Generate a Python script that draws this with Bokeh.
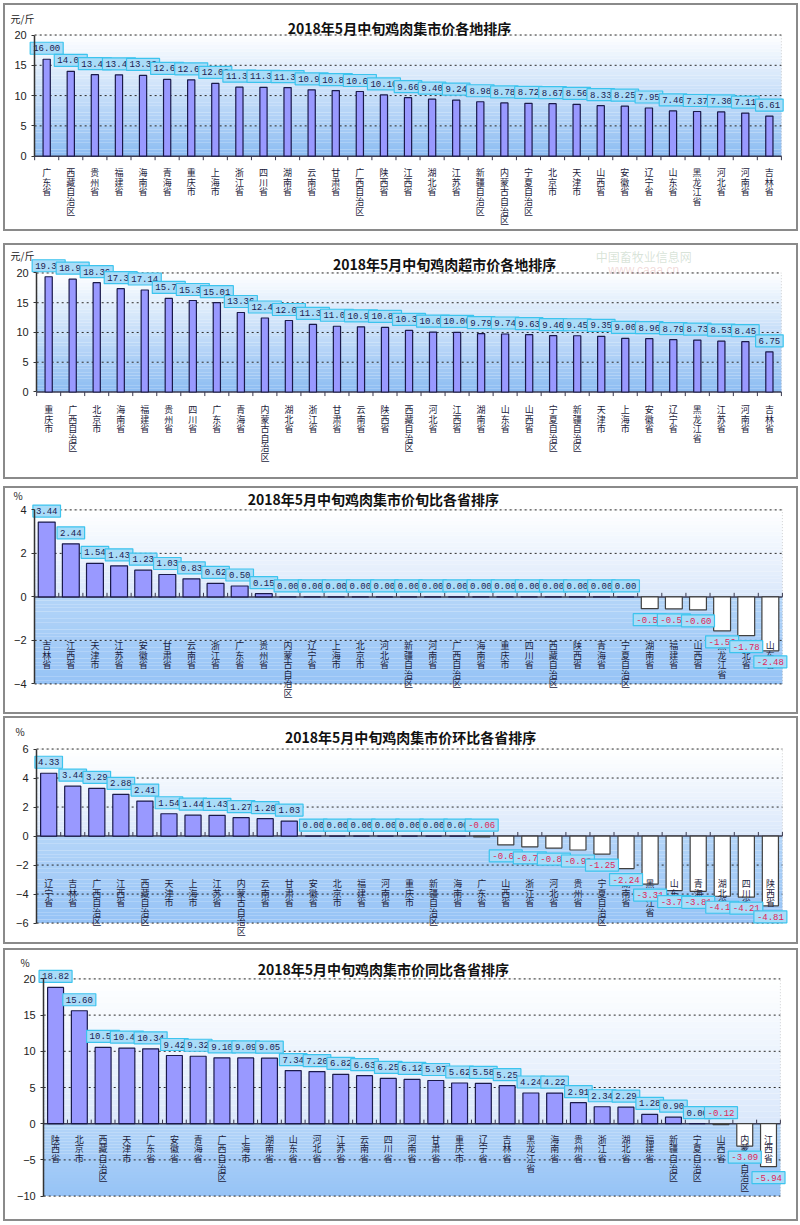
from bokeh.plotting import figure
from bokeh.models import Range1d, BoxAnnotation, Label, ColumnDataSource, FixedTicker
from bokeh.layouts import column
from bokeh.embed import file_html
from bokeh.resources import INLINE
from bokeh.core.properties import value

# ---------------- data ----------------
p1_title = "2018年5月中旬鸡肉集市价各地排序"
p1_unit = "元/斤"
p1_cats = ["广东省", "西藏自治区", "贵州省", "福建省", "海南省", "青海省", "重庆市", "上海市", "浙江省", "四川省",
           "湖南省", "云南省", "甘肃省", "广西自治区", "陕西省", "江西省", "湖北省", "江苏省", "新疆自治区", "内蒙古自治区",
           "宁夏自治区", "北京市", "天津市", "山西省", "安徽省", "辽宁省", "山东省", "黑龙江省", "河北省", "河南省", "吉林省"]
p1_vals = [16.00, 14.00, 13.45, 13.42, 13.33, 12.67, 12.60, 12.00, 11.38, 11.36,
           11.33, 10.95, 10.83, 10.67, 10.10, 9.66, 9.40, 9.24, 8.98, 8.78,
           8.72, 8.67, 8.56, 8.33, 8.25, 7.95, 7.46, 7.37, 7.30, 7.11, 6.61]

p2_title = "2018年5月中旬鸡肉超市价各地排序"
p2_unit = "元/斤"
p2_cats = ["重庆市", "广西自治区", "北京市", "海南省", "福建省", "贵州省", "四川省", "广东省", "青海省", "内蒙古自治区",
           "湖北省", "浙江省", "甘肃省", "云南省", "陕西省", "西藏自治区", "河北省", "江西省", "湖南省", "山东省",
           "山西省", "宁夏自治区", "新疆自治区", "天津市", "上海市", "安徽省", "辽宁省", "黑龙江省", "江苏省", "河南省", "吉林省"]
p2_vals = [19.36, 18.95, 18.36, 17.36, 17.14, 15.73, 15.37, 15.01, 13.36, 12.43,
           12.01, 11.35, 11.05, 10.95, 10.85, 10.35, 10.05, 10.00, 9.79, 9.74,
           9.63, 9.46, 9.45, 9.35, 9.00, 8.96, 8.79, 8.73, 8.53, 8.45, 6.75]

p3_title = "2018年5月中旬鸡肉集市价旬比各省排序"
p3_unit = "%"
p3_cats = ["吉林省", "江西省", "天津市", "江苏省", "安徽省", "甘肃省", "云南省", "浙江省", "广东省", "贵州省",
           "内蒙古自治区", "辽宁省", "上海市", "北京市", "河北省", "新疆自治区", "河南省", "广西自治区", "海南省", "重庆市",
           "四川省", "西藏自治区", "陕西省", "青海省", "宁夏自治区", "湖南省", "福建省", "山西省", "黑龙江省", "湖北省", "山东省"]
p3_vals = [3.44, 2.44, 1.54, 1.43, 1.23, 1.03, 0.83, 0.62, 0.50, 0.15,
           0.00, 0.00, 0.00, 0.00, 0.00, 0.00, 0.00, 0.00, 0.00, 0.00,
           0.00, 0.00, 0.00, 0.00, 0.00, -0.54, -0.55, -0.60, -1.56, -1.78, -2.48]

p4_title = "2018年5月中旬鸡肉集市价环比各省排序"
p4_unit = "%"
p4_cats = ["辽宁省", "吉林省", "广西自治区", "江西省", "西藏自治区", "天津市", "上海市", "江苏省", "内蒙古自治区", "云南省",
           "甘肃省", "安徽省", "北京市", "福建省", "河南省", "重庆市", "新疆自治区", "海南省", "广东省", "山西省",
           "浙江省", "河北省", "贵州省", "宁夏自治区", "湖南省", "黑龙江省", "山东省", "青海省", "湖北省", "四川省", "陕西省"]
p4_vals = [4.33, 3.44, 3.29, 2.88, 2.41, 1.54, 1.44, 1.43, 1.27, 1.20,
           1.03, 0.00, 0.00, 0.00, 0.00, 0.00, 0.00, 0.00, -0.06, -0.61,
           -0.74, -0.83, -0.96, -1.25, -2.24, -3.31, -3.76, -3.81, -4.15, -4.21, -4.81]

p5_title = "2018年5月中旬鸡肉集市价同比各省排序"
p5_unit = "%"
p5_cats = ["陕西省", "北京市", "西藏自治区", "天津市", "广东省", "安徽省", "青海省", "广西自治区", "上海市", "湖南省",
           "山东省", "河北省", "江苏省", "云南省", "四川省", "河南省", "甘肃省", "重庆市", "辽宁省", "吉林省",
           "黑龙江省", "海南省", "贵州省", "浙江省", "湖北省", "福建省", "新疆自治区", "宁夏自治区", "山西省", "内蒙古自治区", "江西省"]
p5_vals = [18.82, 15.60, 10.53, 10.45, 10.34, 9.42, 9.32, 9.10, 9.09, 9.05,
           7.34, 7.20, 6.82, 6.63, 6.25, 6.12, 5.97, 5.62, 5.58, 5.25,
           4.24, 4.22, 2.91, 2.34, 2.29, 1.28, 0.90, 0.00, -0.12, -3.09, -5.94]

watermark_name = "中国畜牧业信息网"
watermark_url = "www.caaa.cn"

# ---------------- helpers ----------------
CJK = "Noto Sans CJK SC"
PAGE_LEFT = 3                 # outer left edge of every panel
W_OUT = 795                   # outer width incl. 2px css border
C_LEFT = PAGE_LEFT + 2        # canvas left (page px)
C_RIGHT = PAGE_LEFT + W_OUT - 2
CHAR_PITCH = 9.6


def hex2rgb(h):
    h = h.lstrip("#")
    return tuple(int(h[i:i + 2], 16) for i in (0, 2, 4))


def mix(c1, c2, t):
    a, b = hex2rgb(c1), hex2rgb(c2)
    return "#%02x%02x%02x" % tuple(int(round(a[i] + (b[i] - a[i]) * t)) for i in range(3))


def gradient(p, n, y_top, y_bot, c_top, c_bot, k=28):
    for i in range(k):
        t0 = y_top + (y_bot - y_top) * i / k
        t1 = y_top + (y_bot - y_top) * (i + 1) / k
        col = mix(c_top, c_bot, (i + 0.5) / k)
        p.add_layout(BoxAnnotation(left=0, right=n, top=t0, bottom=t1, fill_color=col, fill_alpha=1.0,
                                   line_color=None, level="image"))


def make_panel(title, unit, cats, vals, ymin, ymax, step, out_top, H_out, gap_before,
               frame_left, frame_right, ymax_px, ymin_px, bar_w, cat_lab_px, tick_dir,
               title_cx, title_cy, unit_x, unit_cy, split):
    H = H_out - 4
    c_top = out_top + 2
    n = len(cats)
    top_px = ymax_px - c_top
    plot_px = ymin_px - ymax_px
    ppu = plot_px / (ymax - ymin)
    bottom_px = H - top_px - plot_px
    cat_w = (frame_right - frame_left) / n
    x_start = -(frame_left - C_LEFT) / cat_w
    x_end = n + (C_RIGHT - frame_right) / cat_w

    p = figure(x_range=Range1d(x_start, x_end),
               y_range=Range1d(ymin - bottom_px / ppu, ymax + top_px / ppu),
               width=W_OUT, height=H_out, output_backend="svg", toolbar_location=None,
               x_axis_location=None, title_location=None,
               min_border_left=0, min_border_right=0, min_border_top=0, min_border_bottom=0,
               background_fill_color="white", border_fill_color="white",
               margin=(gap_before, 0, 0, PAGE_LEFT))
    p.styles = {"border": "2px solid #8a8a8a"}
    p.outline_line_color = None
    p.grid.visible = False

    xs = [i + 0.5 for i in range(n)]

    # plot-area gradient
    if split:
        gradient(p, n, ymax, 0, "#ffffff", "#dae8fb", 24)
        gradient(p, n, 0, ymin, "#b4d5f8", "#96c3f6", 24)
    else:
        gradient(p, n, ymax, ymin, "#ffffff", "#8cbcf2", 36)
    # dotted plot-area border
    p.add_layout(BoxAnnotation(left=0, right=n, top=ymax, bottom=ymin, fill_alpha=0,
                               line_color="#707070", line_dash="1 2", line_width=1, level="underlay"))

    ticks = list(range(ymin, ymax + 1, step))
    grid_ticks = [t for t in ticks if t != 0]
    p.segment(x0=[0] * len(grid_ticks), x1=[n] * len(grid_ticks), y0=grid_ticks, y1=grid_ticks,
              line_color="#2a2a2a", line_dash="2 3", line_width=1)

    ax = p.yaxis[0]
    ax.fixed_location = 0
    ax.ticker = FixedTicker(ticks=ticks)
    ax.bounds = (ymin, ymax)
    ax.axis_line_color = "#333333"
    ax.axis_line_width = 1.5
    ax.major_tick_out = 3
    ax.major_tick_in = 0
    ax.minor_tick_line_color = None
    ax.major_tick_line_color = "#333333"
    ax.major_label_text_font = "Liberation Sans"
    ax.major_label_text_font_size = "11px"
    ax.major_label_text_color = "#222222"
    ax.major_label_standoff = 5

    # category axis line at zero and boundary ticks
    p.segment(x0=[0], x1=[n], y0=[0], y1=[0], line_color="#3a3a50", line_width=1.5)
    bounds = list(range(n + 1))
    p.segment(x0=bounds, x1=bounds, y0=0, y1=tick_dir * 4 / ppu, line_color="#3a3a50", line_width=1)

    fills = ["#9999ff" if v >= 0 else "#ffffff" for v in vals]
    lines = ["#1a1a4a" if v >= 0 else "#404040" for v in vals]
    up = [v > -0.3 for v in vals]
    src = ColumnDataSource(dict(
        x=xs, top=vals, fill=fills, line=lines,
        lab=["%.2f" % v for v in vals],
        lab_y=[max(v, 0) if u else v for v, u in zip(vals, up)],
        yoff=[-11 if u else 11 for u in up],
        tcol=["#1a1a50" if v >= 0 else "#e0245a" for v in vals],
    ))
    p.vbar(x="x", top="top", bottom=0, width=bar_w, fill_color="fill", line_color="line",
           line_width=1.2, source=src)

    # category labels, written vertically one character per line
    cx, coff, ch = [], [], []
    for i, name in enumerate(cats):
        for k, c in enumerate(name):
            cx.append(xs[i])
            coff.append(cat_lab_px + CHAR_PITCH * k)
            ch.append(c)
    p.text(x=cx, y=0, y_offset=coff, text=ch, text_font=value(CJK),
           text_font_size="9px", text_align="center", text_baseline="top", text_color="#1c1c3c")

    # value labels in boxes
    p.text(x="x", y="lab_y", text="lab", y_offset="yoff", source=src,
           text_font=value("Liberation Mono"), text_font_size="9px", text_align="center",
           text_baseline="middle", text_color="tcol",
           background_fill_color="#a9dcf8", background_fill_alpha=1.0,
           border_line_color="#3cc4ee", border_line_width=1.2, padding=3)

    # title and unit
    p.add_layout(Label(x=(title_cx - frame_left) / cat_w, y=ymax, y_offset=ymax_px - title_cy, text=title,
                       text_font=CJK, text_font_size="14px", text_font_style="bold",
                       text_color="#111111", text_align="center", text_baseline="middle"))
    p.add_layout(Label(x=(unit_x - frame_left) / cat_w, y=ymax, y_offset=ymax_px - unit_cy, text=unit,
                       text_font=CJK, text_font_size="10px", text_color="#222222",
                       text_baseline="middle", text_align="left"))
    p.tags = [frame_left, cat_w, ymax, ymax_px]
    return p


p1 = make_panel(p1_title, p1_unit, p1_cats, p1_vals, 0, 20, 5, 3, 228, 3, 34, 777, 34, 153, 0.3, 10, -1,
                397, 27, 10, 17, False)
p2 = make_panel(p2_title, p2_unit, p2_cats, p2_vals, 0, 20, 5, 243, 236, 12, 36, 777, 272, 389, 0.3, 11, -1,
                442, 263, 10, 255, False)
p3 = make_panel(p3_title, p3_unit, p3_cats, p3_vals, -4, 4, 2, 486, 228, 7, 34, 778, 509, 680, 0.7, 42, 1,
                371, 498, 13, 495, True)
p4 = make_panel(p4_title, p4_unit, p4_cats, p4_vals, -6, 6, 2, 716, 228, 2, 36, 778, 748, 919, 0.67, 41, 1,
                408, 736, 15, 730, True)
p5 = make_panel(p5_title, p5_unit, p5_cats, p5_vals, -10, 20, 5, 948, 273, 4, 43, 776, 978, 1192, 0.67, 9, 1,
                381, 968, 20, 962, True)

# faint site watermark in the top of panel 2
fl, cw, ymx, ymx_px = p2.tags
p2.add_layout(Label(x=(640 - fl) / cw, y=ymx, y_offset=ymx_px - 256, text=watermark_name,
                    text_font=CJK, text_font_size="12px", text_color="#8fb08f", text_alpha=0.35,
                    text_align="center", text_baseline="middle"))
p2.add_layout(Label(x=(640 - fl) / cw, y=ymx, y_offset=ymx_px - 269, text=watermark_url,
                    text_font="Liberation Sans", text_font_size="12px", text_color="#d08080", text_alpha=0.3,
                    text_align="center", text_baseline="middle"))

layout = column(p1, p2, p3, p4, p5, spacing=0)
open("out.html", "w").write(file_html(layout, INLINE))
